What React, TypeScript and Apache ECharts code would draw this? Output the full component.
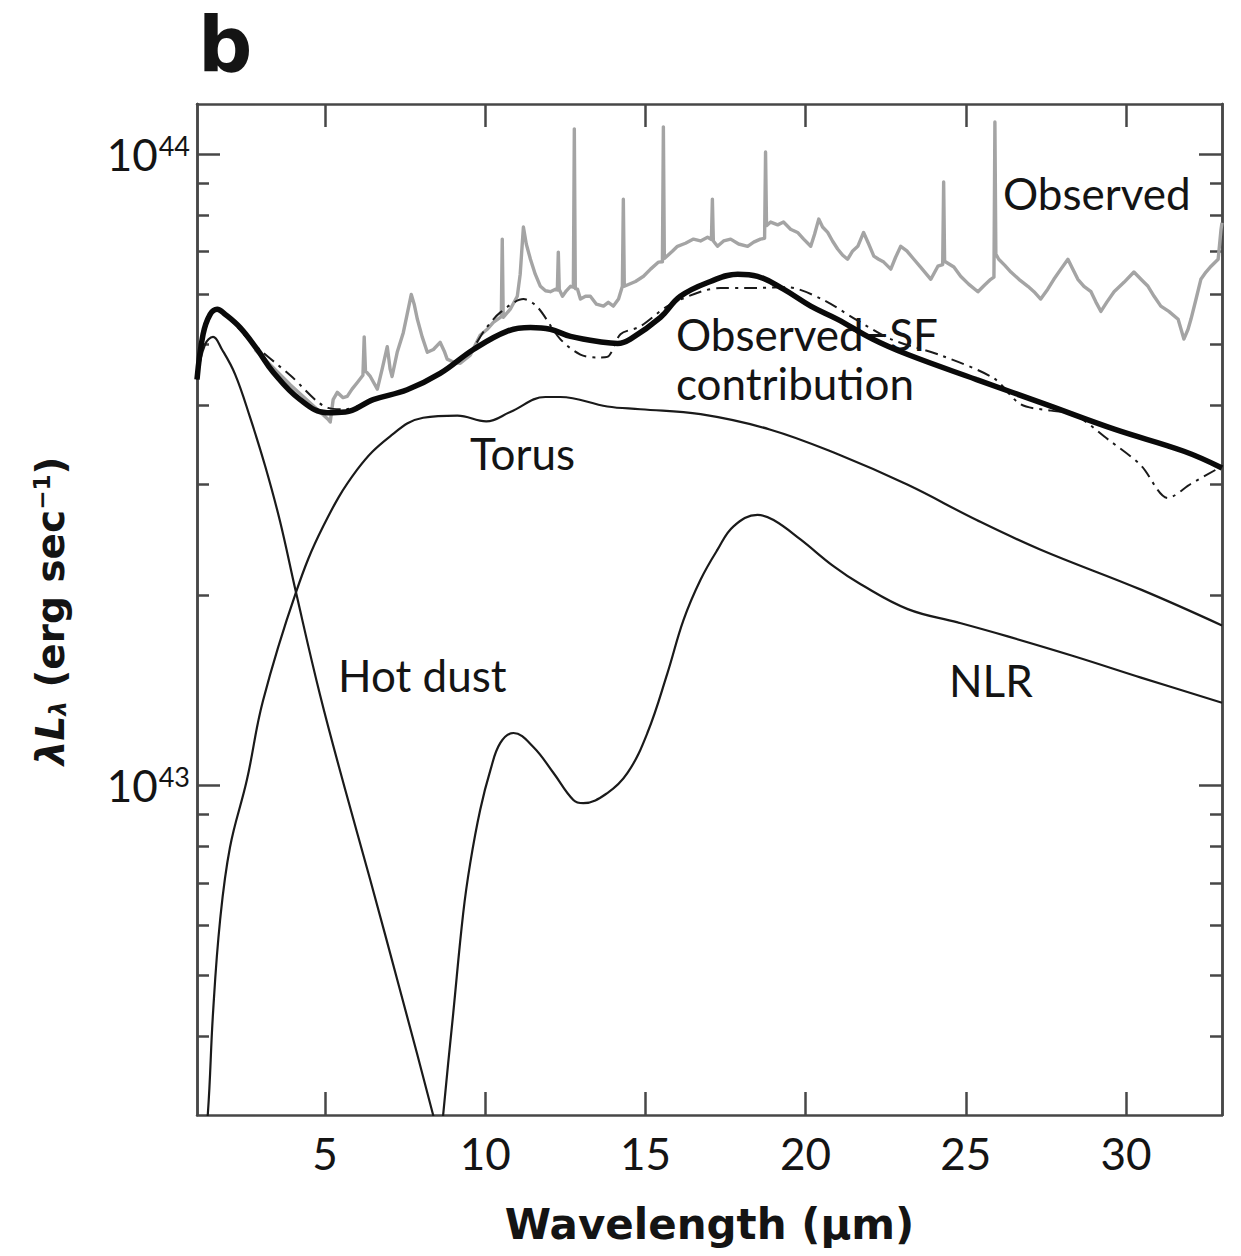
import React, { useEffect, useRef } from 'react';
import * as echarts from 'echarts';

// Luminosities are given in units of 1e42 erg/s; wavelengths in micrometres.
const L_UNIT = 1e42;

const X_TICKS = [5, 10, 15, 20, 25, 30];
const Y_MAJOR = [1e43, 1e44];
const Y_MINOR = [4e42, 5e42, 6e42, 7e42, 8e42, 9e42, 2e43, 3e43, 4e43, 5e43, 6e43, 7e43, 8e43, 9e43];

const observedWl = [2.81, 3.91, 5.09, 5.16, 5.25, 5.38, 5.56, 5.69, 5.84, 6.0, 6.18, 6.22, 6.26, 6.41, 6.63, 6.78, 6.94, 7.03, 7.09, 7.25, 7.44, 7.56, 7.69, 7.78, 7.88, 8.03, 8.19, 8.38, 8.59, 8.72, 8.81, 9.0, 9.22, 9.53, 9.84, 10.06, 10.25, 10.47, 10.5, 10.53, 10.56, 10.78, 11.0, 11.09, 11.19, 11.28, 11.41, 11.56, 11.72, 11.88, 12.03, 12.19, 12.25, 12.28, 12.31, 12.41, 12.53, 12.66, 12.75, 12.78, 12.81, 12.88, 12.97, 13.13, 13.28, 13.47, 13.69, 13.84, 14.0, 14.16, 14.28, 14.31, 14.34, 14.69, 14.94, 15.16, 15.41, 15.53, 15.56, 15.59, 15.84, 16.0, 16.25, 16.5, 16.72, 16.94, 17.06, 17.09, 17.12, 17.25, 17.44, 17.66, 17.91, 18.19, 18.38, 18.59, 18.72, 18.75, 18.78, 18.91, 19.13, 19.31, 19.53, 19.75, 19.94, 20.16, 20.28, 20.41, 20.53, 20.69, 20.84, 21.0, 21.16, 21.31, 21.47, 21.63, 21.81, 21.97, 22.13, 22.28, 22.44, 22.66, 22.81, 22.97, 23.16, 23.38, 23.59, 23.91, 24.13, 24.28, 24.31, 24.34, 24.63, 24.84, 25.09, 25.38, 25.59, 25.78, 25.88, 25.91, 25.94, 26.03, 26.22, 26.41, 26.66, 26.94, 27.13, 27.34, 27.56, 27.75, 27.97, 28.19, 28.34, 28.5, 28.69, 28.91, 29.06, 29.22, 29.41, 29.63, 29.94, 30.25, 30.47, 30.69, 30.88, 31.09, 31.34, 31.63, 31.81, 31.94, 32.03, 32.19, 32.34, 32.5, 32.66, 32.88, 32.97, 33.0];
const observedL = [49.0, 43.1, 38.0, 37.6, 40.8, 41.9, 41.1, 41.3, 42.4, 43.4, 44.6, 51.3, 45.3, 44.4, 42.4, 45.6, 49.5, 45.6, 44.4, 48.5, 52.1, 55.7, 59.9, 57.8, 54.7, 51.3, 48.5, 49.0, 50.3, 48.7, 47.3, 46.8, 46.6, 48.0, 51.6, 52.75, 54.1, 55.1, 55.2, 73.3, 55.1, 56.75, 59.5, 64.5, 76.6, 72.0, 68.1, 64.5, 61.7, 60.7, 60.5, 61.05, 60.9, 69.9, 61.0, 59.5, 60.7, 61.7, 61.5, 109.6, 61.2, 61.05, 58.9, 59.5, 59.5, 57.8, 57.4, 58.2, 57.4, 58.9, 61.7, 84.8, 61.7, 62.8, 64.0, 65.7, 67.4, 67.5, 110.4, 68.3, 70.1, 71.4, 72.2, 73.3, 72.8, 73.8, 73.2, 84.8, 72.8, 71.4, 72.8, 73.3, 72.0, 71.4, 72.5, 73.3, 73.5, 100.7, 77.0, 78.0, 77.2, 78.0, 76.0, 75.1, 73.3, 71.4, 74.6, 78.85, 76.6, 75.1, 72.8, 70.7, 69.1, 68.1, 70.2, 71.4, 75.1, 72.0, 68.9, 68.1, 67.4, 65.7, 68.6, 71.4, 70.2, 68.1, 66.2, 63.3, 66.4, 66.8, 90.3, 67.6, 66.2, 64.0, 62.2, 60.5, 62.0, 63.3, 63.8, 112.4, 69.4, 68.1, 66.6, 65.0, 63.3, 61.7, 60.5, 58.9, 61.05, 63.3, 65.7, 68.1, 65.7, 63.3, 61.7, 60.5, 58.3, 56.3, 58.3, 60.5, 62.6, 65.0, 63.3, 61.7, 59.5, 57.4, 56.3, 54.7, 50.9, 52.75, 54.7, 58.9, 63.3, 65.0, 66.4, 68.1, 76.0, 77.8];

const obsMinusSfWl = [1.0, 1.19, 1.41, 1.63, 1.88, 2.34, 2.88, 3.38, 4.22, 5.06, 5.63, 6.5, 7.56, 8.59, 9.63, 10.69, 11.41, 12.03, 12.66, 13.69, 14.13, 14.53, 15.47, 16.09, 17.03, 17.88, 18.5, 19.31, 20.16, 21.0, 22.09, 23.19, 25.34, 27.5, 29.66, 31.81, 33.0];
const obsMinusSfL = [43.9, 51.8, 55.7, 56.75, 55.7, 53.1, 49.0, 45.1, 40.8, 38.9, 39.0, 40.8, 42.3, 44.9, 49.0, 52.4, 53.1, 52.75, 51.4, 50.3, 50.1, 50.9, 55.1, 59.5, 62.8, 64.5, 64.0, 61.05, 57.4, 54.7, 50.9, 48.1, 43.9, 40.1, 36.6, 33.8, 31.8];

const modelWl = [1.0, 1.19, 1.63, 2.19, 2.66, 3.91, 5.09, 5.63, 6.5, 7.56, 8.59, 9.53, 10.0, 10.47, 11.19, 11.63, 12.34, 12.97, 13.5, 13.81, 14.22, 14.84, 15.69, 16.72, 17.34, 18.13, 19.41, 20.5, 21.56, 22.66, 24.25, 25.88, 26.72, 27.66, 28.38, 29.44, 30.47, 31.31, 32.03, 33.0];
const modelL = [43.9, 51.8, 56.75, 53.7, 50.5, 44.6, 39.6, 39.4, 40.8, 42.3, 44.9, 48.7, 52.75, 56.1, 58.9, 57.2, 50.9, 48.1, 47.6, 47.7, 51.8, 53.3, 57.4, 60.5, 61.3, 61.3, 61.5, 58.9, 54.7, 50.9, 47.9, 44.1, 40.1, 39.2, 38.7, 35.3, 32.1, 28.5, 30.0, 32.0];

const torusWl = [1.19, 1.34, 1.5, 1.72, 2.03, 2.56, 3.06, 4.09, 4.94, 6.0, 7.03, 8.06, 9.13, 10.03, 10.78, 11.88, 12.34, 13.81, 14.84, 16.72, 18.88, 21.03, 23.19, 25.34, 27.34, 30.47, 33.0];
const torusL = [2.6, 3.02, 4.35, 6.1, 7.97, 10.2, 13.6, 20.2, 25.7, 31.6, 35.7, 38.2, 38.5, 37.7, 39.0, 41.2, 41.2, 39.8, 39.4, 38.7, 36.6, 33.4, 29.9, 26.3, 23.6, 20.4, 17.9];

const nlrWl = [8.53, 8.69, 9.0, 9.31, 9.53, 9.84, 10.16, 10.47, 10.88, 11.5, 12.13, 12.75, 13.06, 13.81, 14.44, 15.06, 15.69, 16.19, 16.72, 17.25, 17.75, 18.5, 19.0, 19.84, 20.88, 21.72, 23.19, 24.75, 26.31, 28.38, 30.47, 33.0];
const nlrL = [2.4, 3.02, 4.35, 6.26, 7.52, 9.13, 10.56, 11.66, 12.09, 11.49, 10.45, 9.47, 9.36, 9.71, 10.45, 12.09, 15.06, 18.27, 21.15, 23.6, 25.7, 26.8, 26.3, 24.5, 22.2, 20.8, 19.0, 18.1, 17.2, 16.0, 14.8, 13.5];

const hotDustWl = [1.0, 1.25, 1.5, 1.78, 2.19, 2.66, 3.13, 3.59, 4.09, 4.84, 5.63, 6.41, 7.34, 8.38, 8.75];
const hotDustL = [44.3, 49.9, 51.3, 49.0, 44.75, 38.2, 32.0, 26.2, 20.2, 13.9, 9.82, 7.07, 4.73, 2.99, 2.5];

const pairs = (wl: number[], lum: number[]) => wl.map((w, i) => [w, lum[i] * L_UNIT]);

const AXIS_COLOR = '#474747';
const TEXT_COLOR = '#141414';
const LABEL_FONT = 'Lato';

export default function App() {
  const ref = useRef<HTMLDivElement>(null);

  useEffect(() => {
    document.body.style.margin = '0';
    if (!ref.current) return;
    const chart = echarts.init(ref.current, null, { renderer: 'svg' });

    const axisLine = { show: true, onZero: false, lineStyle: { color: AXIS_COLOR, width: 2.5 } };
    const xAxisBase = {
      type: 'value',
      min: 1,
      max: 33,
      axisLine,
      splitLine: { show: false },
      axisTick: { show: true, inside: true, length: 23, customValues: X_TICKS, lineStyle: { color: AXIS_COLOR, width: 2.5 } },
    };
    const yAxisBase = {
      type: 'log',
      logBase: 10,
      min: 3e42,
      max: 1.2e44,
      axisLine,
      splitLine: { show: false },
      minorTick: { show: false },
    };

    const modelLine = (name: string, wl: number[], lum: number[], extra: any = {}) => ({
      name,
      type: 'line',
      data: pairs(wl, lum),
      symbol: 'none',
      smooth: 0.4,
      lineStyle: { color: '#1a1a1a', width: 2.2 },
      z: 3,
      ...extra,
    });

    const option = {
      animation: false,
      backgroundColor: '#ffffff',
      grid: { left: 197, right: 19, top: 104, bottom: 141, containLabel: false, outerBoundsMode: 'none' },
      xAxis: [
        {
          ...xAxisBase,
          position: 'bottom',
          axisLabel: {
            show: true,
            customValues: X_TICKS,
            fontFamily: LABEL_FONT,
            fontSize: 44,
            color: TEXT_COLOR,
            margin: 16,
          },
          name: 'Wavelength (μm)',
          nameLocation: 'middle',
          nameGap: 88,
          nameTextStyle: { fontFamily: 'DejaVu Sans', fontWeight: 'bold', fontSize: 42, color: TEXT_COLOR },
        },
        { ...xAxisBase, position: 'top', axisLabel: { show: false } },
      ],
      yAxis: [
        {
          ...yAxisBase,
          position: 'left',
          axisTick: { show: true, inside: true, length: 23, customValues: Y_MAJOR, lineStyle: { color: AXIS_COLOR, width: 2.5 } },
          axisLabel: {
            show: true,
            customValues: Y_MAJOR,
            margin: 7,
            formatter: (v: number) => `{b|10}{s|${Math.round(Math.log10(v))}}`,
            rich: {
              b: { fontFamily: LABEL_FONT, fontSize: 44, color: TEXT_COLOR },
              s: { fontFamily: LABEL_FONT, fontSize: 27, color: TEXT_COLOR, verticalAlign: 'top', padding: [0, 0, 14, 1] },
            },
          },
        },
        {
          ...yAxisBase,
          position: 'left',
          axisTick: { show: true, inside: true, length: 12, customValues: Y_MINOR, lineStyle: { color: AXIS_COLOR, width: 2.5 } },
          axisLabel: { show: false },
        },
        {
          ...yAxisBase,
          position: 'right',
          axisTick: { show: true, inside: true, length: 23, customValues: Y_MAJOR, lineStyle: { color: AXIS_COLOR, width: 2.5 } },
          axisLabel: { show: false },
        },
        {
          ...yAxisBase,
          position: 'right',
          axisTick: { show: true, inside: true, length: 12, customValues: Y_MINOR, lineStyle: { color: AXIS_COLOR, width: 2.5 } },
          axisLabel: { show: false },
        },
      ],
      series: [
        {
          name: 'Observed',
          type: 'line',
          data: pairs(observedWl, observedL),
          symbol: 'none',
          lineStyle: { color: '#a4a4a4', width: 3.4, join: 'round' },
          z: 1,
        },
        modelLine('Model', modelWl, modelL, {
          smooth: 0.3,
          lineStyle: { color: '#1a1a1a', width: 2, type: [13, 6, 3, 6] },
          z: 2,
        }),
        modelLine('Torus', torusWl, torusL),
        modelLine('NLR', nlrWl, nlrL),
        modelLine('Hot dust', hotDustWl, hotDustL),
        modelLine('Observed−SF contribution', obsMinusSfWl, obsMinusSfL, {
          lineStyle: { color: '#0a0a0a', width: 5.5 },
          z: 4,
        }),
      ],
      graphic: [
        {
          type: 'text',
          x: 198,
          y: 44,
          style: { text: 'b', fontFamily: 'DejaVu Sans', fontWeight: 'bold', fontSize: 76, fill: TEXT_COLOR, textAlign: 'left', textVerticalAlign: 'middle' },
        },
        {
          type: 'text',
          x: 50,
          y: 611,
          rotation: Math.PI / 2,
          style: {
            text: '{i|λL}{sub|λ}{n| (erg sec}{sup|−1}{n|)}',
            textAlign: 'center',
            textVerticalAlign: 'middle',
            fill: TEXT_COLOR,
            rich: {
              i: { fontFamily: 'DejaVu Sans', fontWeight: 'bold', fontStyle: 'italic', fontSize: 39, fill: TEXT_COLOR },
              sub: { fontFamily: 'DejaVu Sans', fontWeight: 'bold', fontStyle: 'italic', fontSize: 23, fill: TEXT_COLOR, verticalAlign: 'bottom', padding: [14, 0, 0, 0] },
              n: { fontFamily: 'DejaVu Sans', fontWeight: 'bold', fontSize: 39, fill: TEXT_COLOR },
              sup: { fontFamily: 'DejaVu Sans', fontWeight: 'bold', fontSize: 23, fill: TEXT_COLOR, verticalAlign: 'top', padding: [0, 0, 14, 0] },
            },
          },
        },
        { type: 'text', x: 1003, y: 193, style: { text: 'Observed', fontFamily: LABEL_FONT, fontSize: 44, fill: TEXT_COLOR, textAlign: 'left', textVerticalAlign: 'middle' } },
        { type: 'text', x: 676, y: 334, style: { text: 'Observed−SF', fontFamily: LABEL_FONT, fontSize: 44, fill: TEXT_COLOR, textAlign: 'left', textVerticalAlign: 'middle' } },
        { type: 'text', x: 676, y: 383, style: { text: 'contribution', fontFamily: LABEL_FONT, fontSize: 44, fill: TEXT_COLOR, textAlign: 'left', textVerticalAlign: 'middle' } },
        { type: 'text', x: 470, y: 453, style: { text: 'Torus', fontFamily: LABEL_FONT, fontSize: 44, fill: TEXT_COLOR, textAlign: 'left', textVerticalAlign: 'middle' } },
        { type: 'text', x: 338, y: 675, style: { text: 'Hot dust', fontFamily: LABEL_FONT, fontSize: 44, fill: TEXT_COLOR, textAlign: 'left', textVerticalAlign: 'middle' } },
        { type: 'text', x: 949, y: 680, style: { text: 'NLR', fontFamily: LABEL_FONT, fontSize: 44, fill: TEXT_COLOR, textAlign: 'left', textVerticalAlign: 'middle' } },
      ],
    };

    chart.setOption(option as any);
    return () => chart.dispose();
  }, []);

  return <div ref={ref} style={{ width: 1241, height: 1256, background: '#ffffff' }} />;
}
